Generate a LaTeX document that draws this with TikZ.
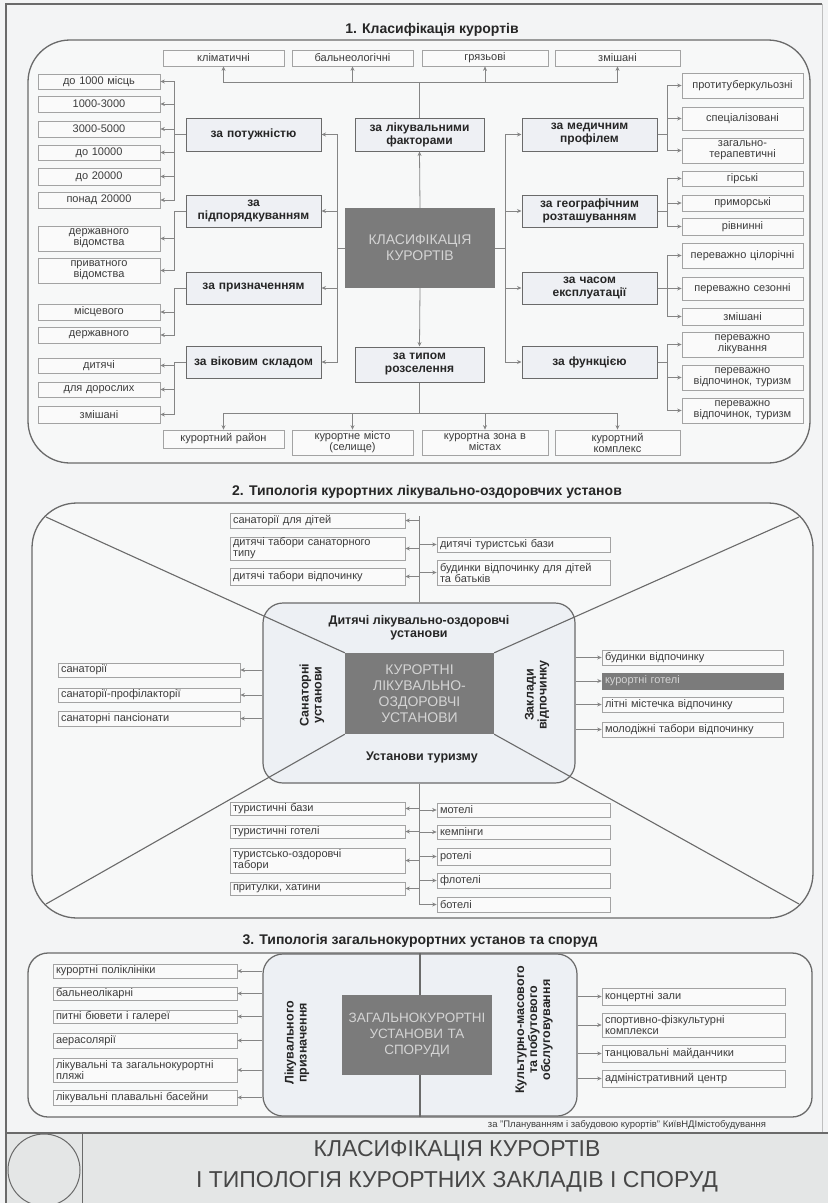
\documentclass[tikz,border=0pt]{standalone}
\usepackage{fontspec}
\setmainfont{Liberation Sans}
\usetikzlibrary{arrows.meta,calc}
\hyphenpenalty=10000
\exhyphenpenalty=10000
\definecolor{pagebg}{HTML}{F3F4F5}
\definecolor{linegray}{HTML}{6A6A6A}
\definecolor{conngray}{HTML}{858585}
\definecolor{boxline}{HTML}{A3A3A3}
\definecolor{catfill}{HTML}{EEF0F4}
\definecolor{darkfill}{HTML}{7B7B7B}
\definecolor{darktext}{HTML}{D4D4D4}
\definecolor{innerfill}{HTML}{EDF0F4}
\definecolor{titlebg}{HTML}{E4E6E6}
\definecolor{leaftext}{HTML}{3C3C3C}
\newcommand\rsbox[7]{%
  \pgfmathsetmacro\rsW{#5-#3}%
  \pgfmathsetmacro\rsH{#6-#4}%
  \pgfmathsetmacro\rsT{#5-#3-6}%
  \pgfmathsetmacro\rsX{(#3+#5)/2}%
  \pgfmathsetmacro\rsY{(#4+#6)/2}%
  \node[#1, minimum width=\rsW pt, minimum height=\rsH pt, text width=\rsT pt] (#2) at (\rsX,\rsY) {#7};}
\tikzset{
  leaf/.style={draw=boxline, line width=0.7pt, fill=white!55!pagebg, inner sep=0pt, align=center, text=leaftext, font=\fontsize{11}{11}\selectfont},
  leafl/.style={leaf, align=left},
  darkl/.style={fill=darkfill, draw=darkfill, inner sep=0pt, align=left, text=darktext, font=\fontsize{11}{11}\selectfont},
  cat/.style={draw=linegray, line width=1pt, fill=catfill, inner sep=0pt, align=center, text=black!85, font=\bfseries\fontsize{12}{13}\selectfont},
  dark/.style={fill=darkfill, draw=none, inner sep=0pt, align=center, text=darktext, font=\fontsize{14}{16}\selectfont},
  innerbox/.style={draw=linegray, line width=1.2pt, fill=innerfill, rounded corners=20pt, inner sep=0pt},
  bigrect/.style={draw=linegray, line width=1.3pt, fill=white!35!pagebg},
  arr/.style={draw=conngray, line width=0.8pt, -{Stealth[length=4.5pt,width=4pt]}},
  conn/.style={draw=conngray, line width=0.8pt},
  diag/.style={draw=linegray, line width=1.1pt},
  lab/.style={align=center, text=black!85, font=\bfseries\fontsize{12.5}{13}\selectfont},
  sectitle/.style={text=black!85, font=\bfseries\fontsize{14}{16}\selectfont},
}
\begin{document}
\begin{tikzpicture}[x=1pt,y=-1pt]
\useasboundingbox (0,0) rectangle (828,1203);
\fill[pagebg] (0,0) rectangle (828,1203);
% frame
\draw[draw=linegray, line width=2pt] (6,1203) -- (6,4) -- (822,4);
\draw[draw=black!25, line width=1pt] (822,4) -- (822,1133);

% ================= SECTION 1 =================
\node[sectitle] (t1) at (432,30) {1. Класифікація курортів};
\draw[bigrect, rounded corners=42pt] (28,40) rectangle (810,463);

\rsbox{leaf}{k1}{163}{50}{284}{66}{кліматичні}
\rsbox{leaf}{k2}{292}{50}{413}{66}{бальнеологічні}
\rsbox{leaf}{k3}{422}{50}{548}{66}{грязьові}
\rsbox{leaf}{k4}{555}{50}{680}{66}{змішані}

\rsbox{dark}{cls}{345}{208}{495}{288}{КЛАСИФІКАЦІЯ\\КУРОРТІВ}
\rsbox{cat}{fac}{355}{118}{484}{151}{за лікувальними\\факторами}
\rsbox{cat}{typ}{355}{347}{484}{382}{за типом\\розселення}
\rsbox{cat}{pot}{186}{118}{321}{151}{за потужністю}
\rsbox{cat}{pid}{186}{195}{321}{227}{за\\підпорядкуванням}
\rsbox{cat}{pry}{186}{272}{321}{304}{за призначенням}
\rsbox{cat}{vik}{186}{346}{321}{378}{за віковим складом}
\rsbox{cat}{med}{522}{118}{657}{151}{за медичним\\профілем}
\rsbox{cat}{geo}{522}{195}{657}{227}{за географічним\\розташуванням}
\rsbox{cat}{chas}{522}{272}{657}{304}{за часом\\експлуатації}
\rsbox{cat}{fun}{522}{346}{657}{378}{за функцією}

\rsbox{leaf}{l1}{38}{74}{160}{89}{до 1000 місць}
\rsbox{leaf}{l2}{38}{96}{160}{112}{1000-3000}
\rsbox{leaf}{l3}{38}{121}{160}{137}{3000-5000}
\rsbox{leaf}{l4}{38}{145}{160}{160}{до 10000}
\rsbox{leaf}{l5}{38}{168}{160}{185}{до 20000}
\rsbox{leaf}{l6}{38}{192}{160}{208}{понад 20000}
\rsbox{leaf}{l7}{38}{226}{160}{251}{державного\\відомства}
\rsbox{leaf}{l8}{38}{258}{160}{283}{приватного\\відомства}
\rsbox{leaf}{l9}{38}{304}{160}{320}{місцевого}
\rsbox{leaf}{l10}{38}{327}{160}{343}{державного}
\rsbox{leaf}{l11}{38}{358}{160}{373}{дитячі}
\rsbox{leaf}{l12}{38}{382}{160}{397}{для дорослих}
\rsbox{leaf}{l13}{38}{406}{160}{423}{змішані}

\rsbox{leaf}{r1}{682}{73}{803}{98}{протитуберкульозні}
\rsbox{leaf}{r2}{682}{107}{803}{130}{спеціалізовані}
\rsbox{leaf}{r3}{682}{138}{803}{163}{загально-\\терапевтичні}
\rsbox{leaf}{r4}{682}{171}{803}{186}{гірські}
\rsbox{leaf}{r5}{682}{195}{803}{211}{приморські}
\rsbox{leaf}{r6}{682}{218}{803}{235}{рівнинні}
\rsbox{leaf}{r7}{682}{243}{803}{268}{переважно цілорічні}
\rsbox{leaf}{r8}{682}{277}{803}{300}{переважно сезонні}
\rsbox{leaf}{r9}{682}{308}{803}{325}{змішані}
\rsbox{leaf}{r10}{682}{332}{803}{357}{переважно\\лікування}
\rsbox{leaf}{r11}{682}{365}{803}{390}{переважно\\відпочинок, туризм}
\rsbox{leaf}{r12}{682}{398}{803}{423}{переважно\\відпочинок, туризм}

\rsbox{leaf}{b1}{163}{430}{284}{448}{курортний район}
\rsbox{leaf}{b2}{292}{430}{413}{455}{курортне місто\\(селище)}
\rsbox{leaf}{b3}{422}{430}{548}{455}{курортна зона в\\містах}
\rsbox{leaf}{b4}{555}{430}{680}{455}{курортний\\комплекс}

% connectors section 1
\draw[arr] (cls.north) -- (fac.south);
\foreach \t in {k1,k2,k3,k4} \draw[arr] (fac.north) -- ++(0,-35) -| (\t.south);
\draw[arr] (cls.south) -- (typ.north);
\foreach \t in {b1,b2,b3,b4} \draw[arr] (typ.south) -- ++(0,31) -| (\t.north);
\foreach \t in {pot,pid,pry,vik} \draw[arr] (cls.west) -- ++(-7,0) |- (\t.east);
\foreach \t in {med,geo,chas,fun} \draw[arr] (cls.east) -- ++(10,0) |- (\t.west);
\foreach \t in {l1,l2,l3,l4,l5,l6} \draw[arr] (pot.west) -- ++(-11,0) |- (\t.east);
\foreach \t in {l7,l8} \draw[arr] (pid.west) -- ++(-11,0) |- (\t.east);
\foreach \t in {l9,l10} \draw[arr] (pry.west) -- ++(-11,0) |- (\t.east);
\foreach \t in {l11,l12,l13} \draw[arr] (vik.west) -- ++(-11,0) |- (\t.east);
\foreach \t in {r1,r2,r3} \draw[arr] (med.east) -- ++(10,0) |- (\t.west);
\foreach \t in {r4,r5,r6} \draw[arr] (geo.east) -- ++(10,0) |- (\t.west);
\foreach \t in {r7,r8,r9} \draw[arr] (chas.east) -- ++(10,0) |- (\t.west);
\foreach \t in {r10,r11,r12} \draw[arr] (fun.east) -- ++(10,0) |- (\t.west);

% ================= SECTION 2 =================
\node[sectitle] (t2) at (427,492) {2. Типологія курортних лікувально-оздоровчих установ};
\draw[bigrect, rounded corners=45pt] (32,503) rectangle (813,918);
\rsbox{innerbox}{in2}{263}{603}{575}{783}{}
\coordinate (d1) at (46,517);
\coordinate (d2) at (799,517);
\coordinate (d3) at (46,904);
\coordinate (d4) at (799,904);
\rsbox{dark}{cen2}{345}{653}{494}{734}{КУРОРТНІ\\ЛІКУВАЛЬНО-\\ОЗДОРОВЧІ\\УСТАНОВИ}
\draw[diag] (d1) -- (cen2.north west);
\draw[diag] (d2) -- (cen2.north east);
\draw[diag] (d3) -- (cen2.south west);
\draw[diag] (d4) -- (cen2.south east);
\node[lab] (lt) at (419,628) {Дитячі лікувально-оздоровчі\\установи};
\node[lab] (lb) at (422,757) {Установи туризму};
\node[lab, rotate=90] (ll) at (312,695) {Санаторні\\установи};
\node[lab, rotate=90] (lr) at (537,695) {Заклади\\відпочинку};

\coordinate (s2t) at (419,516);
\draw[conn] (in2.north) -- (s2t);
\rsbox{leafl}{a1}{230}{513}{405}{528}{санаторії для дітей}
\rsbox{leafl}{a2}{230}{537}{405}{560}{дитячі табори санаторного\\типу}
\rsbox{leafl}{a3}{230}{568}{405}{585}{дитячі табори відпочинку}
\rsbox{leafl}{a4}{437}{537}{610}{552}{дитячі туристські бази}
\rsbox{leafl}{a5}{437}{560}{610}{585}{будинки відпочинку для дітей\\та батьків}
\foreach \t in {a1,a2,a3} \draw[arr] (s2t |- \t.east) -- (\t.east);
\foreach \t in {a4,a5} \draw[arr] (s2t |- \t.west) -- (\t.west);

\rsbox{leafl}{s1}{58}{663}{240}{677}{санаторії}
\rsbox{leafl}{s2}{58}{688}{240}{702}{санаторії-профілакторії}
\rsbox{leafl}{s3}{58}{711}{240}{726}{санаторні пансіонати}
\foreach \t in {s1,s2,s3} \draw[arr] (in2.west |- \t.east) -- (\t.east);

\rsbox{leafl}{z1}{602}{650}{783}{665}{будинки відпочинку}
\rsbox{darkl}{z2}{602}{673}{783}{689}{курортні готелі}
\rsbox{leafl}{z3}{602}{697}{783}{712}{літні містечка відпочинку}
\rsbox{leafl}{z4}{602}{722}{783}{737}{молодіжні табори відпочинку}
\foreach \t in {z1,z2,z3,z4} \draw[arr] (in2.east |- \t.west) -- (\t.west);

\coordinate (s2b) at (419,905);
\draw[conn] (in2.south) -- (s2b);
\rsbox{leafl}{u1}{230}{802}{405}{815}{туристичні бази}
\rsbox{leafl}{u2}{230}{825}{405}{838}{туристичні готелі}
\rsbox{leafl}{u3}{230}{848}{405}{873}{туристсько-оздоровчі\\табори}
\rsbox{leafl}{u4}{230}{882}{405}{895}{притулки, хатини}
\rsbox{leafl}{m1}{437}{803}{610}{817}{мотелі}
\rsbox{leafl}{m2}{437}{825}{610}{839}{кемпінги}
\rsbox{leafl}{m3}{437}{848}{610}{865}{ротелі}
\rsbox{leafl}{m4}{437}{873}{610}{888}{флотелі}
\rsbox{leafl}{m5}{437}{897}{610}{912}{ботелі}
\foreach \t in {u1,u2,u3,u4} \draw[arr] (s2b |- \t.east) -- (\t.east);
\foreach \t in {m1,m2,m3,m4,m5} \draw[arr] (s2b |- \t.west) -- (\t.west);

% ================= SECTION 3 =================
\node[sectitle] (t3) at (420,941) {3. Типологія загальнокурортних установ та споруд};
\draw[bigrect, rounded corners=20pt] (28,953) rectangle (812,1117);
\rsbox{innerbox}{in3}{263}{954}{577}{1116}{}
\draw[diag] (in3.north) -- (in3.south);
\rsbox{dark, font=\fontsize{13.5}{16}\selectfont}{cen3}{342}{995}{492}{1075}{ЗАГАЛЬНОКУРОРТНІ\\УСТАНОВИ ТА\\СПОРУДИ}
\node[lab, rotate=90] (lp) at (297,1043) {Лікувального\\призначення};
\node[lab, rotate=90] (lk) at (534,1030) {Культурно-масового\\та побутового\\обслуговування};

\rsbox{leafl}{p1}{53}{964}{237}{978}{курортні поліклініки}
\rsbox{leafl}{p2}{53}{987}{237}{1000}{бальнеолікарні}
\rsbox{leafl}{p3}{53}{1010}{237}{1023}{питні бювети і галереї}
\rsbox{leafl}{p4}{53}{1033}{237}{1048}{аерасолярії}
\rsbox{leafl}{p5}{53}{1058}{237}{1082}{лікувальні та загальнокурортні\\пляжі}
\rsbox{leafl}{p6}{53}{1090}{237}{1105}{лікувальні плавальні басейни}
\foreach \t in {p1,p2,p3,p4,p5,p6} \draw[arr] (in3.west |- \t.east) -- (\t.east);

\rsbox{leafl}{q1}{602}{988}{785}{1005}{концертні зали}
\rsbox{leafl}{q2}{602}{1013}{785}{1037}{спортивно-фізкультурні\\комплекси}
\rsbox{leafl}{q3}{602}{1045}{785}{1062}{танцювальні майданчики}
\rsbox{leafl}{q4}{602}{1070}{785}{1087}{адміністративний центр}
\foreach \t in {q1,q2,q3,q4} \draw[arr] (in3.east |- \t.west) -- (\t.west);

\node[text=leaftext, font=\fontsize{9.5}{10}\selectfont] (fn) at (627,1125) {за "Плануванням і забудовою курортів" КиївНДІмістобудування};

% ================= TITLE BLOCK =================
\fill[titlebg] (7,1133) rectangle (828,1203);
\draw[draw=linegray, line width=1.5pt] (6,1133) -- (828,1133);
\draw[draw=linegray, line width=1pt] (82,1133) -- (82,1203);
\draw[draw=linegray, line width=1pt] (44,1170) circle (36pt);
\node[text=black!72, font=\fontsize{23}{25}\selectfont] (tt1) at (457,1151) {КЛАСИФІКАЦІЯ КУРОРТІВ};
\node[text=black!72, font=\fontsize{23}{25}\selectfont] (tt2) at (457,1182) {І ТИПОЛОГІЯ КУРОРТНИХ ЗАКЛАДІВ І СПОРУД};
\end{tikzpicture}
\end{document}
